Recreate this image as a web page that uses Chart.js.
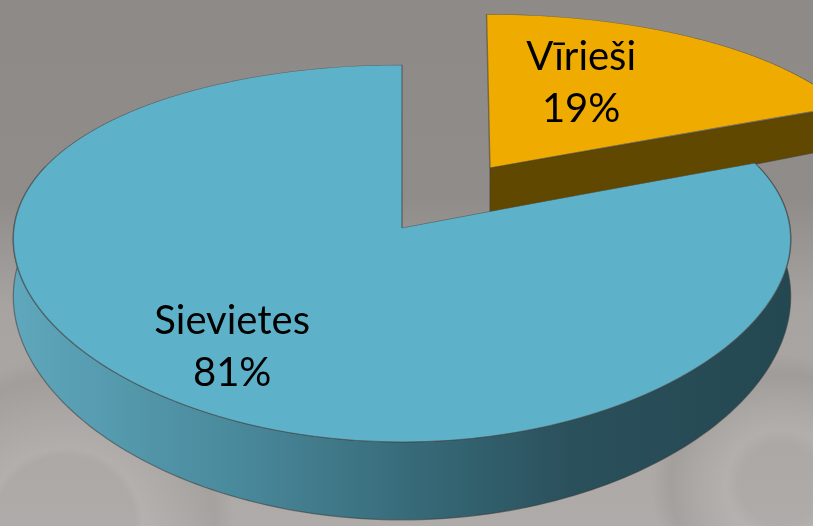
<!DOCTYPE html>
<html>
<head>
<meta charset="utf-8">
<script src="https://cdn.jsdelivr.net/npm/chart.js@4.4.1/dist/chart.umd.min.js"></script>
<style>
    html, body { margin: 0; padding: 0; }
    body {
        width: 813px;
        height: 526px;
        overflow: hidden;
        background:
            radial-gradient(circle at 8% 100%, rgba(255,255,255,0) 70px, rgba(255,255,255,0.07) 78px, rgba(255,255,255,0) 110px, rgba(0,0,0,0.05) 150px, rgba(0,0,0,0) 170px),
            radial-gradient(circle at 96% 92%, rgba(255,255,255,0) 40px, rgba(255,255,255,0.08) 55px, rgba(255,255,255,0) 80px, rgba(0,0,0,0.06) 110px, rgba(0,0,0,0) 130px),
            linear-gradient(to bottom, #8e8a87 0%, #908c89 38%, #a7a3a0 58%, #afaba8 100%);
    }
    #wrap { position: relative; width: 813px; height: 526px; }
</style>
</head>
<body>
<div id="wrap"><canvas id="genderChart" width="813" height="526"></canvas></div>
<script>
// Data
const categories = ['Vīrieši', 'Sievietes'];
const shares = [19, 81];

// Look
const topColors = ['#efab00', '#5db2ca'];
const explode = [640, 0];          // Chart.js divides arc offset by 4
const labelFrac = [0.5, 0.72];
const labelNudge = [[-11, -18], [-7, -1]];

// simple perspective: the pie lies on a tilted floor
const cam = { cx: 402, cy: 228, sx: 388, sy: 185, px: 0.06, py: 0.135 };
function xScale(v) { return 1 / (1 - cam.px * v); }
function screenY(v) { return cam.cy + cam.sy * v / (1 - cam.py * v); }
function screenDY(v) { return cam.sy / Math.pow(1 - cam.py * v, 2); }
function floorV(y) { const t = y - cam.cy; return t / (cam.sy + cam.py * t); }
function project(u, v) { return { x: cam.cx + cam.sx * u * xScale(v), y: screenY(v) }; }
function slabDepth(v) { return 56 + 22 * v; }

// arc geometry in floor units (pie radius = 1), same placement as ArcElement.draw
function arcGeom(arc, R) {
    const shift = (arc.options.offset || 0) / 4;
    const mid = (arc.startAngle + arc.endAngle) / 2;
    const fix = 1 - Math.sin(Math.min(Math.PI, arc.circumference || 0));
    return {
        u: Math.cos(mid) * shift / R,
        v: Math.sin(mid) * shift / R,
        r: (arc.outerRadius + shift * fix) / R,
        mid: mid
    };
}

const pie3d = {
    id: 'pie3d',
    beforeDatasetsDraw(chart) {
        const ctx = chart.ctx;
        const meta = chart.getDatasetMeta(0);
        const arcs = meta.data;
        const cx0 = arcs[0].x, cy0 = arcs[0].y, R = arcs[0].outerRadius;

        // slab walls and rims, in screen space
        arcs.forEach(function(arc, i) {
            const g = arcGeom(arc, R);
            const s = arc.startAngle, e = arc.endAngle;

            if (Math.cos(e) > 0.01) {
                const a = project(g.u, g.v);
                const bu = g.u + Math.cos(e) * g.r, bv = g.v + Math.sin(e) * g.r;
                const b = project(bu, bv);
                ctx.beginPath();
                ctx.moveTo(a.x, a.y);
                ctx.lineTo(b.x, b.y);
                ctx.lineTo(b.x, b.y + slabDepth(bv));
                ctx.lineTo(a.x, a.y + slabDepth(g.v));
                ctx.closePath();
                ctx.fillStyle = i === 0 ? '#614800' : '#2d5b69';
                ctx.fill();
                ctx.lineWidth = 1;
                ctx.strokeStyle = 'rgba(60,60,60,0.5)';
                ctx.stroke();
            }

            const a0 = Math.max(s, -0.35), a1 = Math.min(e, Math.PI + 0.35);
            if (a1 > a0) {
                const n = 160;
                const top = [], bottom = [];
                for (let k = 0; k <= n; k++) {
                    const t = a0 + (a1 - a0) * k / n;
                    const u = g.u + Math.cos(t) * g.r, v = g.v + Math.sin(t) * g.r;
                    const p = project(u, v);
                    top.push(p);
                    bottom.push({ x: p.x, y: p.y + slabDepth(v) });
                }
                const grad = ctx.createLinearGradient(cam.cx - cam.sx, 0, cam.cx + cam.sx, 0);
                grad.addColorStop(0, '#5fa7bc');
                grad.addColorStop(0.28, '#4a8a9d');
                grad.addColorStop(0.5, '#386c7b');
                grad.addColorStop(0.72, '#2a505b');
                grad.addColorStop(1, '#244852');
                ctx.beginPath();
                top.forEach((p, k) => k ? ctx.lineTo(p.x, p.y) : ctx.moveTo(p.x, p.y));
                for (let k = bottom.length - 1; k >= 0; k--) ctx.lineTo(bottom[k].x, bottom[k].y);
                ctx.closePath();
                ctx.fillStyle = grad;
                ctx.fill();
                ctx.lineWidth = 1.2;
                ctx.strokeStyle = 'rgba(60,60,60,0.55)';
                ctx.stroke();
            }
        });

        // top faces: let Chart.js draw the pie in thin horizontal bands,
        // each band with its own affine piece of the perspective
        const H = chart.height, W = chart.width, step = 2;
        for (let y1 = 0; y1 < H; y1 += step) {
            const vm = floorV(y1 + step / 2);
            const a = cam.sx * xScale(vm) / R;
            const d = screenDY(vm) / R;
            const e = cam.cx - a * cx0;
            const f = screenY(vm) - d * cy0 - screenDY(vm) * vm;
            ctx.save();
            ctx.beginPath();
            ctx.rect(0, y1, W, step);
            ctx.clip();
            ctx.setTransform(a, 0, 0, d, e, f);
            meta.controller.draw();
            ctx.restore();
        }
        return false;
    },
    afterDraw(chart) {
        const ctx = chart.ctx;
        const arcs = chart.getDatasetMeta(0).data;
        const R = arcs[0].outerRadius;
        const total = shares.reduce((a, b) => a + b, 0);
        ctx.save();
        ctx.fillStyle = '#000';
        ctx.font = '400 40px Lato, "Noto Sans", sans-serif';
        ctx.textAlign = 'center';
        ctx.textBaseline = 'middle';
        arcs.forEach(function(arc, i) {
            const g = arcGeom(arc, R);
            const p = project(g.u + Math.cos(g.mid) * labelFrac[i], g.v + Math.sin(g.mid) * labelFrac[i]);
            const x = p.x + labelNudge[i][0], y = p.y + labelNudge[i][1];
            const pct = Math.round(shares[i] / total * 100) + '%';
            ctx.fillText(categories[i], x, y - 26);
            ctx.fillText(pct, x, y + 26);
        });
        ctx.restore();
    }
};

const ctx = document.getElementById('genderChart').getContext('2d');
new Chart(ctx, {
    type: 'pie',
    data: {
        labels: categories,
        datasets: [{
            data: shares,
            backgroundColor: topColors,
            borderColor: 'rgba(70,70,70,0.6)',
            borderWidth: 1.5,
            offset: explode,
            radius: 389,
            cutout: '0%'
        }]
    },
    options: {
        responsive: false,
        animation: false,
        events: [],
        layout: {
            padding: { left: 0, right: 13, top: 0, bottom: 26 }
        },
        plugins: {
            legend: { display: false },
            tooltip: { enabled: false }
        }
    },
    plugins: [pie3d]
});
</script>
</body>
</html>
